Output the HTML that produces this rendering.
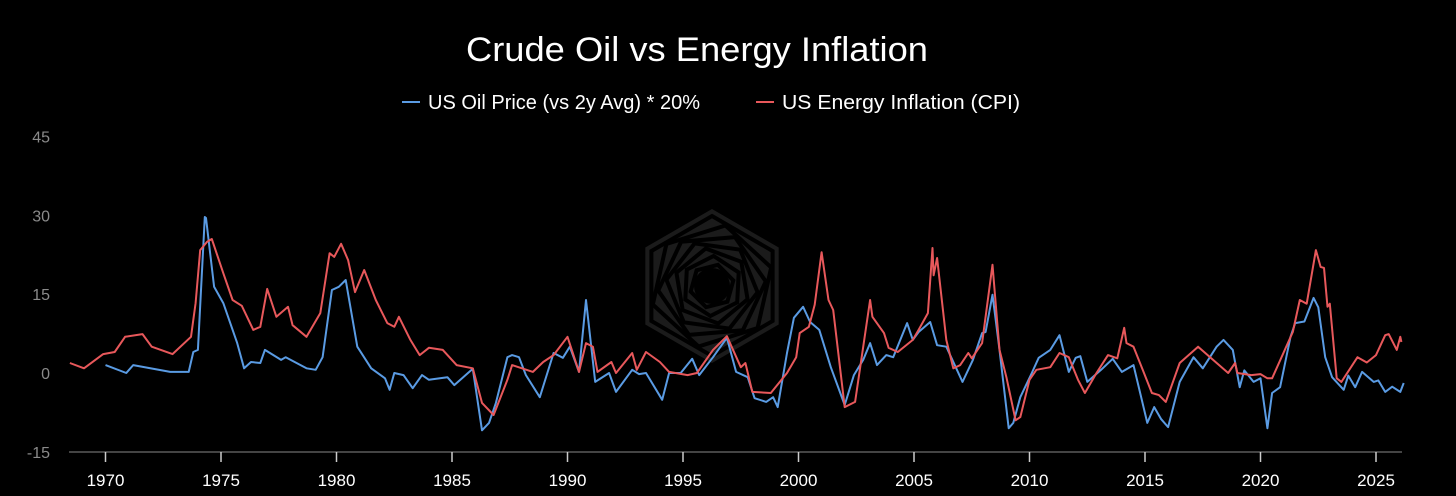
<!DOCTYPE html>
<html><head><meta charset="utf-8"><style>
html,body{margin:0;padding:0;background:#000;width:1456px;height:496px;overflow:hidden}
svg{display:block}
text{font-family:"Liberation Sans",sans-serif}
</style></head><body>
<svg id="chart" width="1456" height="496">
<g id="wm"></g>
<text x="697" y="61" fill="#fff" font-size="34" text-anchor="middle" textLength="462" lengthAdjust="spacingAndGlyphs">Crude Oil vs Energy Inflation</text>
<g>
<g><line x1="402" y1="102" x2="420" y2="102" stroke="#5a9be3" stroke-width="2"/><text x="428" y="109" fill="#fff" font-size="20" textLength="272" lengthAdjust="spacingAndGlyphs">US Oil Price (vs 2y Avg) * 20%</text></g>
<g><line x1="756" y1="102" x2="774" y2="102" stroke="#e8585b" stroke-width="2"/><text x="782" y="109" fill="#fff" font-size="20" textLength="238" lengthAdjust="spacingAndGlyphs">US Energy Inflation (CPI)</text></g>
</g>
<g id="yaxis"></g>
<g id="xaxis"></g>
<g id="series"></g>
</svg>
<script>
const yTicks=[45,30,15,0,-15];
const xTicks=[1970,1975,1980,1985,1990,1995,2000,2005,2010,2015,2020,2025];
const redYears=[1968.46,1969.07,1969.9,1970.4,1970.85,1971.6,1972.0,1972.9,1973.7,1973.9,1974.1,1974.4,1974.6,1975.1,1975.5,1975.9,1976.4,1976.7,1977.0,1977.4,1977.9,1978.1,1978.7,1979.3,1979.7,1979.9,1980.2,1980.5,1980.8,1981.2,1981.7,1982.2,1982.5,1982.7,1983.2,1983.6,1984.0,1984.6,1985.2,1985.9,1986.3,1986.8,1987.4,1987.6,1988.5,1988.95,1989.4,1990.0,1990.5,1990.8,1991.1,1991.3,1991.9,1992.1,1992.8,1993.0,1993.4,1994.0,1994.4,1995.2,1995.6,1996.3,1996.9,1997.5,1997.7,1998.0,1998.8,1999.5,1999.9,2000.05,2000.45,2000.7,2001.0,2001.3,2001.5,2002.0,2002.45,2003.1,2003.2,2003.7,2003.9,2004.3,2004.95,2005.2,2005.6,2005.8,2005.85,2006.0,2006.4,2006.7,2007.0,2007.35,2007.5,2007.95,2008.4,2008.7,2009.0,2009.4,2009.6,2010.0,2010.3,2010.9,2011.3,2011.7,2012.1,2012.4,2012.9,2013.4,2013.8,2014.1,2014.2,2014.5,2014.9,2015.3,2015.6,2015.9,2016.5,2017.3,2017.95,2018.6,2018.9,2019.0,2019.6,2020.0,2020.3,2020.5,2021.4,2021.7,2022.0,2022.4,2022.6,2022.75,2022.9,2023.0,2023.3,2023.5,2024.2,2024.6,2025.0,2025.4,2025.55,2025.9,2026.05,2026.1];
const redValues=[1.9,0.9,3.6,4.0,6.9,7.4,5.0,3.6,6.9,13.3,23.4,25.0,25.5,19.0,13.9,12.8,8.2,8.8,16.0,10.7,12.6,9.1,6.9,11.4,22.8,22.1,24.6,21.5,15.4,19.6,13.9,9.5,8.8,10.7,6.3,3.4,4.8,4.4,1.5,0.9,-5.7,-8.0,-1.3,1.5,0.2,2.1,3.4,6.9,0.2,5.7,5.0,0.2,2.1,0,3.8,0.6,4.0,2.1,0.2,-0.4,0,4.4,7.0,1.1,1.9,-3.6,-3.8,0,3.0,7.6,8.8,13.0,23.0,13.9,12.0,-6.5,-5.5,13.9,10.7,7.6,4.8,4.0,6.3,8.2,11.4,23.8,18.6,21.9,6.3,0.9,1.5,3.8,2.8,5.7,20.6,4.4,-0.8,-9.0,-8.4,-1.3,0.6,1.1,3.8,3.0,-1.3,-3.8,0,3.4,2.8,8.6,5.7,5.0,0.6,-3.8,-4.2,-5.5,1.9,5.0,2.5,0,1.9,0,-0.4,-0.2,-1.0,-1.0,7.8,13.9,13.2,23.4,20.2,20.0,12.6,13.2,-1.0,-1.7,3.0,2.0,3.4,7.2,7.4,4.4,6.9,5.9];
const blueYears=[1970.0,1970.9,1971.2,1972.8,1973.6,1973.8,1974.0,1974.3,1974.35,1974.7,1975.1,1975.7,1976.0,1976.3,1976.7,1976.9,1977.6,1977.8,1978.7,1979.1,1979.4,1979.8,1980.1,1980.4,1980.9,1981.5,1982.1,1982.3,1982.5,1982.9,1983.3,1983.7,1984.0,1984.8,1985.1,1985.9,1986.3,1986.6,1986.9,1987.4,1987.6,1987.9,1988.2,1988.8,1989.4,1989.8,1990.1,1990.5,1990.8,1991.2,1991.8,1992.1,1992.8,1993.1,1993.4,1994.1,1994.4,1994.9,1995.4,1995.7,1996.3,1996.9,1997.3,1997.8,1998.1,1998.6,1998.9,1999.1,1999.5,1999.8,2000.2,2000.5,2000.9,2001.4,2002.0,2002.4,2002.8,2003.1,2003.4,2003.8,2004.1,2004.7,2004.95,2005.2,2005.7,2006.0,2006.4,2007.1,2007.55,2007.95,2008.1,2008.4,2008.7,2009.1,2009.3,2009.6,2010.1,2010.4,2010.9,2011.3,2011.7,2012.0,2012.2,2012.5,2013.1,2013.6,2014.0,2014.5,2015.1,2015.4,2015.7,2016.0,2016.5,2017.1,2017.5,2018.1,2018.4,2018.8,2019.1,2019.3,2019.7,2020.0,2020.3,2020.5,2020.85,2021.3,2021.5,2021.9,2022.3,2022.5,2022.8,2023.1,2023.6,2023.8,2024.1,2024.4,2024.9,2025.1,2025.4,2025.7,2026.05,2026.2];
const blueValues=[1.5,0,1.5,0.2,0.2,4.0,4.4,29.7,29.5,16.4,13.3,5.7,0.9,2.1,1.9,4.4,2.5,3.0,0.9,0.6,3.0,15.8,16.4,17.7,5.0,0.9,-1.0,-3.2,0,-0.4,-2.9,-0.4,-1.3,-0.8,-2.3,0.8,-10.9,-9.5,-5.7,3.0,3.4,3.0,-0.4,-4.6,3.8,2.9,5.0,0.2,13.9,-1.7,0,-3.6,0.6,-0.2,0,-5.1,0,0,2.7,-0.4,3.0,6.7,0.2,-0.8,-4.8,-5.5,-4.6,-6.5,3.8,10.5,12.6,9.7,8.2,1.1,-6.1,-0.4,2.5,5.7,1.5,3.4,3.0,9.5,6.3,7.8,9.7,5.3,5.0,-1.7,2.5,7.6,7.8,14.9,4.4,-10.5,-9.5,-4.6,0,2.9,4.4,7.2,0.2,2.9,3.2,-1.7,0.6,2.7,0.2,1.5,-9.5,-6.5,-8.8,-10.3,-1.7,3.0,0.9,5.0,6.3,4.4,-2.7,0.5,-1.7,-1.0,-10.5,-3.8,-2.7,6.9,9.5,9.8,14.3,12.5,3.0,-0.8,-3.2,-0.5,-2.7,0.2,-1.7,-1.4,-3.6,-2.6,-3.6,-1.9];

const NS='http://www.w3.org/2000/svg';
const xS=yr=>105.5+(yr-1970)*23.1;
const yS=v=>373-v*5.2533;
function mk(tag,attrs,parent){const e=document.createElementNS(NS,tag);for(const k in attrs)e.setAttribute(k,attrs[k]);parent.appendChild(e);return e;}

// watermark
const wm=document.getElementById('wm');
const cx=712,cy=286;
function hex(r,rot){let p=[];for(let i=0;i<6;i++){const a=(Math.PI/3)*i+rot-Math.PI/2;p.push((cx+r*Math.cos(a)).toFixed(1)+','+(cy+r*Math.sin(a)).toFixed(1));}return p.join(' ');}
const hx=mk('polygon',{points:hex(77,0),fill:'#1b1b1b'},wm);


for(let i=0;i<7;i++){const r=70-i*8;const h=mk('polygon',{points:hex(r,i*0.22),fill:'none',stroke:'#000','stroke-width':4},wm);

}
const hc=mk('circle',{cx:cx,cy:cy,r:18,fill:'#000'},wm);



// y axis
const ya=document.getElementById('yaxis');
yTicks.forEach(t=>{const tx=mk('text',{x:50,y:yS(t)+6,fill:'#8a8a8a','font-size':16,'text-anchor':'end'},ya);tx.textContent=t;

});
// x axis
const xa=document.getElementById('xaxis');
const al=mk('line',{x1:69,y1:452,x2:1402,y2:452,stroke:'#444','stroke-width':2},xa);


xTicks.forEach(t=>{const l=mk('line',{x1:xS(t),y1:452,x2:xS(t),y2:462,stroke:'#ccc','stroke-width':1.5},xa);


const tx=mk('text',{x:xS(t),y:486,fill:'#fff','font-size':17,'text-anchor':'middle'},xa);tx.textContent=t;

});

// series
const sg=document.getElementById('series');
function path(xs,vs){return xs.map((x,i)=>(i?'L':'M')+xS(x).toFixed(1)+','+yS(vs[i]).toFixed(1)).join('');}
const bl=mk('path',{d:path(blueYears,blueValues),fill:'none',stroke:'#5a9be3','stroke-width':2,'stroke-linejoin':'round'},sg);


const rl=mk('path',{d:path(redYears,redValues),fill:'none',stroke:'#e8585b','stroke-width':2,'stroke-linejoin':'round'},sg);


</script>
</body></html>
